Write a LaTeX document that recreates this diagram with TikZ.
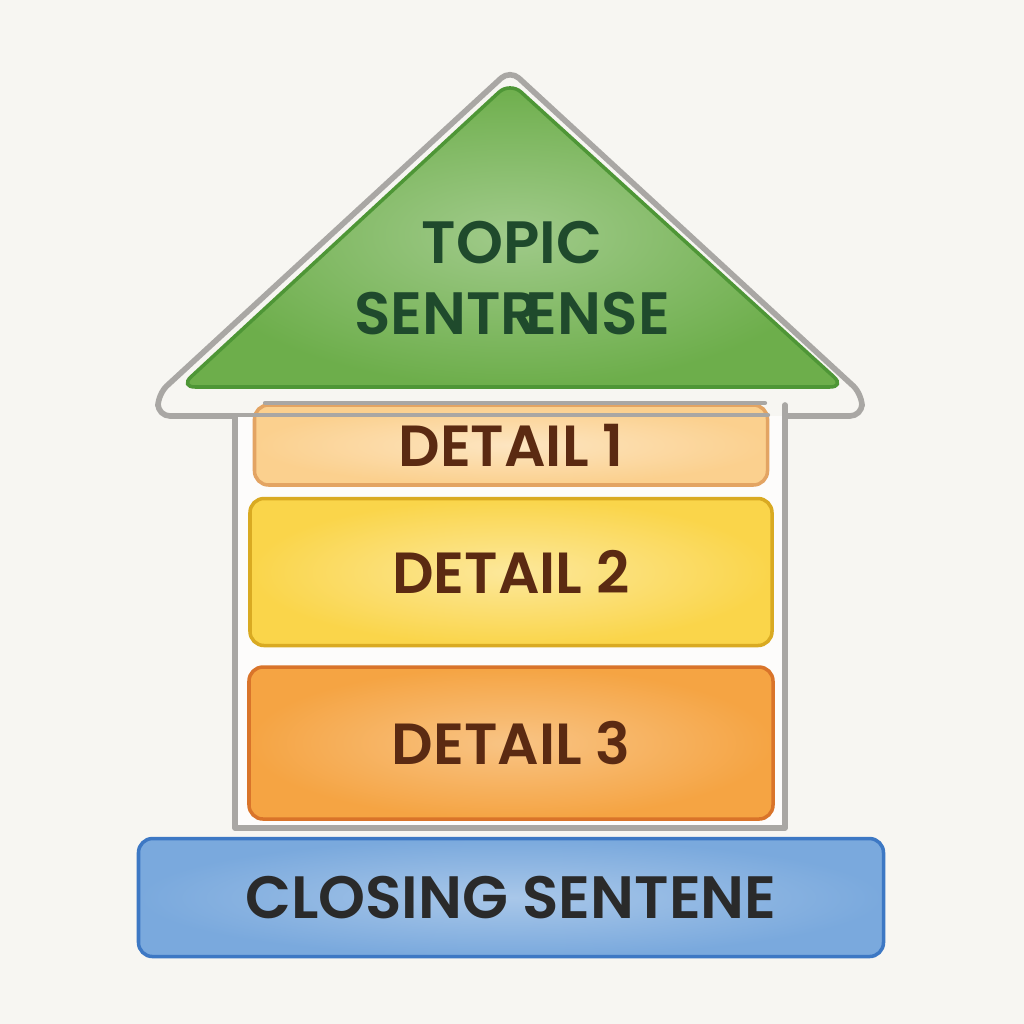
\documentclass[tikz,border=0pt]{standalone}
\usepackage{fontspec}
\setmainfont{Poppins}[BoldFont={Poppins SemiBold}]
\usetikzlibrary{positioning}
\definecolor{HBg}{HTML}{F7F6F2}
\definecolor{HRoof}{HTML}{6DAE4B}
\definecolor{HRoofLine}{HTML}{4E9636}
\definecolor{HRoofText}{HTML}{1F4A2C}
\definecolor{HOne}{HTML}{FBD08E}
\definecolor{HOneLine}{HTML}{E3A463}
\definecolor{HTwo}{HTML}{FAD54A}
\definecolor{HTwoLine}{HTML}{D9AA22}
\definecolor{HThree}{HTML}{F5A443}
\definecolor{HThreeLine}{HTML}{D9742A}
\definecolor{HBlue}{HTML}{7AA9DD}
\definecolor{HBlueLine}{HTML}{3D78C4}
\definecolor{HWall}{HTML}{A9A7A4}
\definecolor{HBrown}{HTML}{5B2A12}
\definecolor{HInk}{HTML}{2A2A2A}

\begin{document}
\begin{tikzpicture}[x=0.1mm,y=-0.1mm,node distance=1mm,
  b/.style={rounded corners=1.4mm,inner sep=0pt,line width=1pt,font=\fontsize{16.5}{19}\selectfont\bfseries,text=HBrown},
  w/.style={draw=HWall,line width=1.6pt,line cap=round,line join=round}]
\fill[HBg] (0,0) rectangle (1024,1024);
\useasboundingbox (0,0) rectangle (1024,1024);
% walls
\fill[white!70!HBg] (235,416) rectangle (785,828);
\draw[w] (235,416) -- (235,828) -- (785,828) -- (785,405);
% roof
\draw[w,rounded corners=1.2mm] (785,416) -- (862,416) -- (862,394) -- (510,70) -- (158,394) -- (158,416) -- (235,416);
\shade[inner color=HRoof!65!white,outer color=HRoof,rounded corners=1.5mm] (510,82) -- (845,387) -- (180,387) -- cycle;
\draw[HRoofLine,line width=1pt,rounded corners=1.5mm] (510,82) -- (845,387) -- (180,387) -- cycle;
\node[font=\fontsize{17}{20}\selectfont\bfseries,text=HRoofText,align=center] (topic) at (512,278) {TOPIC\\SENTR\kern-.22em ENSE};
% details
\node[b,draw=HOneLine,inner color=HOne!55!white,outer color=HOne,minimum width=51.3mm,minimum height=8mm] (d1) at (511,445) {DETAIL 1};
\draw[w,line width=1.2pt] (265,403) -- (765,403);
\draw[w,line width=1.2pt] (235,415) -- (768,415);
\node[b,draw=HTwoLine,inner color=HTwo!55!white,outer color=HTwo,minimum width=52.2mm,minimum height=14.7mm,below=1mm of d1] (d2) {DETAIL 2};
\node[b,draw=HThreeLine,inner color=HThree!65!white,outer color=HThree,minimum width=52.4mm,minimum height=15.2mm,below=1.8mm of d2] (d3) {DETAIL 3};
\node[b,draw=HBlueLine,inner color=HBlue!65!white,outer color=HBlue,minimum width=74.5mm,minimum height=11.8mm,font=\fontsize{17}{20}\selectfont\bfseries,text=HInk,below=1.6mm of d3] (close) {CLOSING SENTENE};
\end{tikzpicture}
\end{document}
